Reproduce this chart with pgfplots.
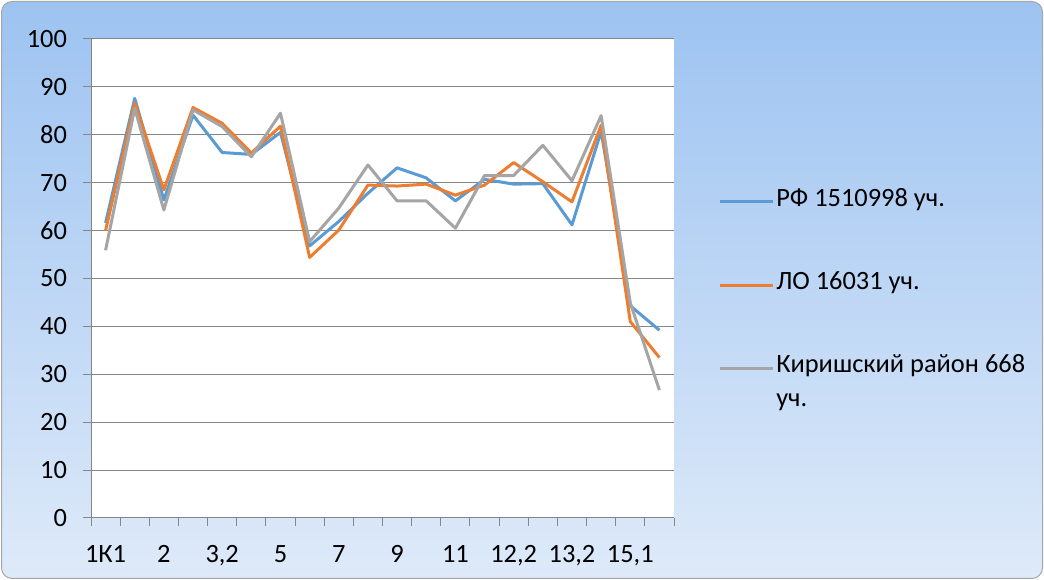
\documentclass[border=0pt]{standalone}
\usepackage{pgfplots}
\pgfplotsset{compat=1.18}
\usepackage{fontspec}
\setmainfont{Carlito}
\definecolor{bgtop}{RGB}{157,195,241}
\definecolor{bgbot}{RGB}{222,234,249}
\definecolor{sblue}{RGB}{91,155,213}
\definecolor{sorange}{RGB}{237,125,49}
\definecolor{sgray}{RGB}{165,165,165}
\definecolor{gridc}{RGB}{134,134,134}
\begin{document}
\begin{tikzpicture}[x=0.75pt,y=0.75pt]
\useasboundingbox (0,0) rectangle (1044,580);
\shade[top color=bgtop, bottom color=bgbot, draw=gray!70, rounded corners=8pt, line width=0.75pt] (1.5,1.5) rectangle (1042.5,578.5);
\begin{axis}[
  at={(68.25pt,46.5pt)}, anchor=south west,
  scale only axis, width=437.25pt, height=359.25pt,
  xmin=0, xmax=20, ymin=0, ymax=100,
  axis background/.style={fill=white},
  axis lines*=left,
  axis line style={gridc, line width=0.75pt},
  ytick={0,10,...,100},
  xtick={0.5,2.5,...,18.5},
  xticklabels={1К1,2,{3,2},5,7,9,11,{12,2},{13,2},{15,1}},
  minor xtick={0,1,...,20},
  tick align=outside,
  major tick length=6pt, minor tick length=6pt,
  x tick style={draw=none},
  minor x tick style={draw=gridc, line width=0.75pt},
  y tick style={draw=gridc, line width=0.75pt},
  ymajorgrids, grid style={gridc, line width=0.75pt},
  /pgf/number format/assume math mode=true,
  tick label style={font=\fontsize{19.8}{24}\selectfont, black},
  yticklabel style={xshift=-8.5pt},
  xticklabel style={yshift=-11pt},
  legend style={at={(1.076,0.692)}, anchor=north west, draw=none, fill=none,
    font=\fontsize{19.8}{25.5}\selectfont, row sep=45.5pt, inner sep=0pt,
    cells={anchor=base west}, nodes={inner sep=1pt}},
  legend image code/.code={\draw[line width=2.25pt,#1] (0pt,0.32em) -- (40pt,0.32em);},
  every axis plot/.append style={line width=2.25pt, line join=round, mark=none},
]
\addplot[sblue] coordinates {(0.5,61.6)(1.5,87.6)(2.5,66.4)(3.5,84.1)(4.5,76.3)(5.5,75.9)(6.5,80.5)(7.5,56.8)(8.5,61.9)(9.5,67.8)(10.5,73.1)(11.5,71.0)(12.5,66.2)(13.5,70.7)(14.5,69.7)(15.5,69.8)(16.5,61.2)(17.5,80.7)(18.5,44.3)(19.5,39.2)};
\addlegendentry{РФ 1510998 уч.}
\addplot[sorange] coordinates {(0.5,60.0)(1.5,86.6)(2.5,68.5)(3.5,85.7)(4.5,82.4)(5.5,76.2)(6.5,81.8)(7.5,54.4)(8.5,60.1)(9.5,69.5)(10.5,69.3)(11.5,69.7)(12.5,67.4)(13.5,69.5)(14.5,74.2)(15.5,70.2)(16.5,66.0)(17.5,82.0)(18.5,41.0)(19.5,33.5)};
\addlegendentry{ЛО 16031 уч.}
\addplot[sgray] coordinates {(0.5,55.9)(1.5,85.5)(2.5,64.3)(3.5,85.2)(4.5,81.7)(5.5,75.4)(6.5,84.5)(7.5,57.7)(8.5,64.7)(9.5,73.7)(10.5,66.2)(11.5,66.2)(12.5,60.5)(13.5,71.5)(14.5,71.5)(15.5,77.8)(16.5,70.4)(17.5,84.0)(18.5,44.9)(19.5,26.7)};
\addlegendentry{\vtop{\baselineskip=25.5pt\hbox{Киришский район 668}\hbox{уч.}}}
\end{axis}
\end{tikzpicture}
\end{document}
